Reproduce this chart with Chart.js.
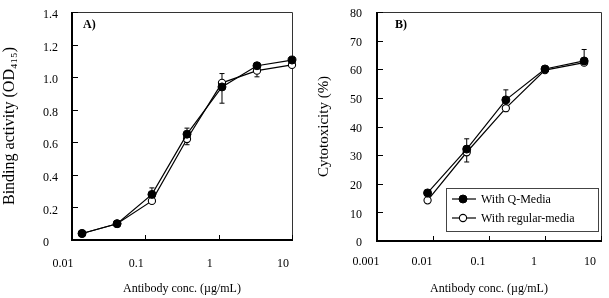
<!DOCTYPE html>
<html>
<head>
<meta charset="utf-8">
<script src="https://cdn.jsdelivr.net/npm/chart.js"></script>
<style>
  html, body { margin: 0; padding: 0; background: #fff; }
  #wrap { position: relative; width: 609px; height: 298px; }
  #boxA { position: absolute; left: 0; top: 0; }
  #boxB { position: absolute; left: 300px; top: 0; }
</style>
</head>
<body>
<div id="wrap">
  <div id="boxA"><canvas id="chartA" width="300" height="298"></canvas></div>
  <div id="boxB"><canvas id="chartB" width="309" height="298"></canvas></div>
</div>
<script>
// ---- panel A : binding activity ----
var concA = [0.0137, 0.0412, 0.123, 0.370, 1.11, 3.33, 10];
var qMediaA = [0.04, 0.10, 0.28, 0.65, 0.94, 1.07, 1.105];
var regularA = [0.04, 0.10, 0.24, 0.62, 0.965, 1.04, 1.075];
var qErrA = [0.005, 0.01, 0.04, 0.037, 0.10, 0.015, 0.01];
var regErrA = [0.005, 0.01, 0.01, 0.035, 0.057, 0.038, 0.01];
var xTicksA = [0.01, 0.1, 1, 10];
var xLabelsA = ['0.01', '0.1', '1', '10'];

// ---- panel B : cytotoxicity ----
var concB = [0.008, 0.04, 0.2, 1, 5];
var qMediaB = [16.8, 32.1, 49.3, 60.1, 62.9];
var regularB = [14.2, 31.0, 46.4, 59.7, 62.3];
var qErrB = [0.5, 3.6, 3.5, 0.8, 4.0];
var regErrB = [0.5, 3.4, 1.2, 0.8, 0.8];
var xTicksB = [0.001, 0.01, 0.1, 1, 10];
var xLabelsB = ['0.001', '0.01', '0.1', '1', '10'];

var seriesNames = ['With Q-Media', 'With regular-media'];

var FONT = 'Liberation Serif, Times New Roman, serif';

function pairs(xs, ys) {
  return xs.map(function (x, i) { return { x: x, y: ys[i] }; });
}

function makeDatasets(xs, q, r, qe, re) {
  return [
    {
      label: seriesNames[0], data: pairs(xs, q), errors: qe,
      borderColor: '#000', borderWidth: 1.2, backgroundColor: '#000',
      pointBackgroundColor: '#000', pointBorderColor: '#000',
      pointRadius: 4, pointBorderWidth: 1, tension: 0, clip: false
    },
    {
      label: seriesNames[1], data: pairs(xs, r), errors: re,
      borderColor: '#000', borderWidth: 1.2, backgroundColor: '#fff',
      pointBackgroundColor: '#fff', pointBorderColor: '#000',
      pointRadius: 3.6, pointBorderWidth: 1.1, tension: 0, clip: false
    }
  ];
}

// frame, inward ticks, error bars, panel letter, legend
var framePlugin = {
  id: 'frame',
  beforeDatasetsDraw: function (chart) {
    var ctx = chart.ctx, a = chart.chartArea;
    var xs = chart.scales.x, ys = chart.scales.y;
    ctx.save();
    ctx.strokeStyle = '#333';
    ctx.lineWidth = 1;
    ctx.beginPath();
    ctx.moveTo(a.left, a.top + 0.5);
    ctx.lineTo(a.right + 0.5, a.top + 0.5);
    ctx.lineTo(a.right + 0.5, a.bottom);
    ctx.stroke();

    ctx.strokeStyle = '#000';
    ctx.lineWidth = 2;
    ctx.beginPath();
    ctx.moveTo(a.left, a.top);
    ctx.lineTo(a.left, a.bottom);
    ctx.lineTo(a.right + 1, a.bottom);
    ctx.stroke();

    ctx.lineWidth = 1;
    ys.ticks.forEach(function (t) {
      var y = Math.round(ys.getPixelForValue(t.value)) + 0.5;
      ctx.beginPath(); ctx.moveTo(a.left, y); ctx.lineTo(a.left + 6, y); ctx.stroke();
    });
    xs.ticks.forEach(function (t) {
      var x = Math.round(xs.getPixelForValue(t.value)) + 0.5;
      ctx.beginPath(); ctx.moveTo(x, a.bottom); ctx.lineTo(x, a.bottom - 5); ctx.stroke();
    });

    // error bars: higher series goes up, lower goes down
    var d0 = chart.data.datasets[0], d1 = chart.data.datasets[1];
    [d0, d1].forEach(function (ds, k) {
      var other = k === 0 ? d1 : d0;
      ds.data.forEach(function (p, i) {
        var up = k === 0 ? p.y >= other.data[i].y : p.y > other.data[i].y;
        var end = up ? p.y + ds.errors[i] : p.y - ds.errors[i];
        var x = xs.getPixelForValue(p.x);
        var y0 = ys.getPixelForValue(p.y), y1 = ys.getPixelForValue(end);
        ctx.beginPath();
        ctx.moveTo(x, y0); ctx.lineTo(x, y1);
        ctx.moveTo(x - 2.5, y1); ctx.lineTo(x + 2.5, y1);
        ctx.stroke();
      });
    });
    ctx.restore();
  },
  afterDraw: function (chart, args, opts) {
    var ctx = chart.ctx, a = chart.chartArea;
    ctx.save();
    ctx.fillStyle = '#000';
    ctx.font = 'bold 12px ' + FONT;
    ctx.textBaseline = 'middle';
    ctx.fillText(opts.letter, a.left + opts.letterDx, a.top + 13);

    if (opts.legend) {
      var bx = 146, by = 188, bw = 152, bh = 43;
      ctx.strokeStyle = '#444';
      ctx.lineWidth = 1;
      ctx.strokeRect(bx + 0.5, by + 0.5, bw, bh);
      chart.data.datasets.forEach(function (ds, i) {
        var y = by + 11 + i * 19;
        ctx.strokeStyle = '#000';
        ctx.lineWidth = 1.2;
        ctx.beginPath(); ctx.moveTo(bx + 6, y); ctx.lineTo(bx + 30, y); ctx.stroke();
        ctx.beginPath();
        ctx.arc(bx + 17, y, ds.pointRadius, 0, Math.PI * 2);
        ctx.fillStyle = ds.pointBackgroundColor;
        ctx.fill();
        ctx.lineWidth = ds.pointBorderWidth;
        ctx.stroke();
        ctx.fillStyle = '#000';
        ctx.font = '12px ' + FONT;
        ctx.fillText(ds.label, bx + 35, y + 1);
      });
    }
    ctx.restore();
  }
};

function makeChart(id, cfg) {
  return new Chart(document.getElementById(id), {
    type: 'line',
    data: { datasets: cfg.datasets },
    options: {
      responsive: false,
      animation: false,
      layout: { padding: { top: 12, right: 8, left: cfg.padLeft, bottom: 0 } },
      plugins: {
        legend: { display: false },
        tooltip: { enabled: false },
        frame: { letter: cfg.letter, letterDx: cfg.letterDx, legend: cfg.legend }
      },
      scales: {
        x: {
          type: 'logarithmic',
          min: cfg.xTicks[0],
          max: cfg.xTicks[cfg.xTicks.length - 1],
          afterBuildTicks: function (s) {
            s.ticks = cfg.xTicks.map(function (v) { return { value: v }; });
          },
          afterFit: function (s) { s.height = cfg.xHeight; },
          grid: { display: false, drawTicks: true, tickLength: cfg.xGap },
          border: { display: false },
          ticks: {
            autoSkip: false, maxRotation: 0,
            padding: 1, labelOffset: cfg.labelOffset,
            color: '#000', font: { family: FONT, size: 12 },
            callback: function (v) {
              var i = cfg.xTicks.indexOf(v);
              return i >= 0 ? cfg.xLabels[i] : '';
            }
          },
          title: {
            display: true, text: 'Antibody conc. (\u00b5g/mL)', color: '#000',
            font: { family: FONT, size: 12 }, padding: { top: 0, bottom: 2 }
          }
        },
        y: {
          min: 0, max: cfg.yMax,
          afterFit: function (s) { s.width = cfg.yWidth; },
          grid: { display: false, drawTicks: true, tickLength: cfg.yGap },
          border: { display: false },
          ticks: {
            stepSize: cfg.yStep, padding: 0, crossAlign: cfg.crossAlign,
            labelOffset: cfg.yLabelOffset,
            color: '#000', font: { family: FONT, size: 12 },
            callback: cfg.yFormat
          },
          title: {
            display: true, text: cfg.yTitle, color: '#000',
            font: { family: FONT, size: cfg.yTitleSize }, padding: { top: cfg.yTitlePad, bottom: 0 }
          }
        }
      }
    },
    plugins: [framePlugin]
  });
}

makeChart('chartA', {
  datasets: makeDatasets(concA, qMediaA, regularA, qErrA, regErrA),
  xTicks: xTicksA, xLabels: xLabelsA,
  yMax: 1.4, yStep: 0.2,
  yFormat: function (v) { return v === 0 ? '0' : v.toFixed(1); },
  yTitle: 'Binding activity (OD\u2084\u2081\u2085)', yTitleSize: 16,
  padLeft: 43, yWidth: 29, xHeight: 58, xGap: 16, yGap: 13, crossAlign: 'far',
  yTitlePad: -42.6, labelOffset: -9, yLabelOffset: 3,
  letter: 'A)', letterDx: 11, legend: false
});

makeChart('chartB', {
  datasets: makeDatasets(concB, qMediaB, regularB, qErrB, regErrB),
  xTicks: xTicksB, xLabels: xLabelsB,
  yMax: 80, yStep: 10,
  yFormat: function (v) { return String(v); },
  yTitle: 'Cytotoxicity (%)', yTitleSize: 15,
  padLeft: 0, yWidth: 77, xHeight: 57, xGap: 13, yGap: 15, crossAlign: 'near',
  yTitlePad: 15, labelOffset: -11, yLabelOffset: 2,
  letter: 'B)', letterDx: 18, legend: true
});
</script>
</body>
</html>
